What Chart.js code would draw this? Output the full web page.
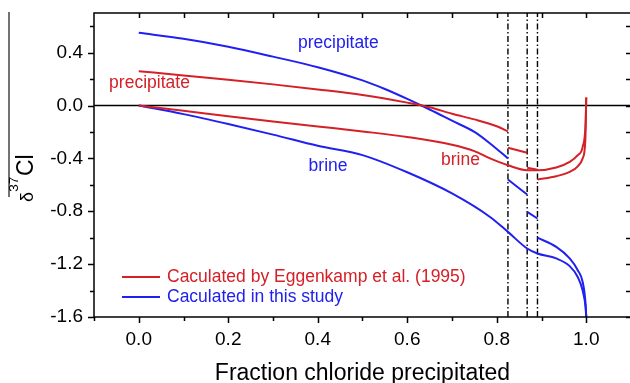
<!DOCTYPE html>
<html>
<head>
<meta charset="utf-8">
<script src="https://cdn.jsdelivr.net/npm/chart.js@4.4.1/dist/chart.umd.min.js"></script>
<style>
  html, body { margin: 0; padding: 0; overflow: hidden; background: #fff; }
  canvas { display: block; }
</style>
</head>
<body>
<canvas id="chart" width="634" height="383"></canvas>
<script>
// tick labels
const xTickValues = [0, 0.2, 0.4, 0.6, 0.8, 1.0];
const yTickValues = [-1.6, -1.2, -0.8, -0.4, 0, 0.4];

// fractions where the salt assemblage changes (dash-dot lines)
const stageBreaks = [0.825, 0.868, 0.891];

// this study (blue) - precipitate, null = break in the curve
const bluePrecX = [0, 0.1, 0.2, 0.3, 0.4, 0.5, 0.55, 0.6, 0.65, 0.7, 0.75, 0.785, 0.825,
  0.825, 0.825, 0.868, 0.868, 0.868, 0.891, 0.891,
  0.891, 0.933, 0.963, 0.981, 0.992, 0.9985, 1.0];
const bluePrecY = [0.55, 0.505, 0.445, 0.37, 0.29, 0.19, 0.125, 0.05, -0.03, -0.115, -0.2, -0.287, -0.40,
  null, -0.56, -0.673, null, -0.805, -0.855, null,
  -1.0, -1.07, -1.157, -1.246, -1.335, -1.5, -1.6];

// this study (blue) - brine
const blueBrineX = [0, 0.1, 0.2, 0.3, 0.4, 0.5, 0.6, 0.7, 0.785, 0.825, 0.868, 0.891, 0.933, 0.963, 0.981, 0.992, 0.9985, 1.0];
const blueBrineY = [0, -0.065, -0.14, -0.22, -0.305, -0.375, -0.505, -0.665, -0.843, -0.956, -1.082, -1.12, -1.157, -1.215, -1.297, -1.4, -1.525, -1.6];

// Eggenkamp et al. (1995) (red) - precipitate
const redPrecX = [0, 0.1, 0.2, 0.3, 0.4, 0.5, 0.6, 0.65, 0.7, 0.75, 0.8, 0.825,
  0.825, 0.825, 0.868, 0.868, 0.868, 0.891, 0.891,
  0.891, 0.933, 0.963, 0.981, 0.992, 0.998, 1.0];
const redPrecY = [0.26, 0.227, 0.195, 0.16, 0.122, 0.08, 0.022, -0.013, -0.062, -0.105, -0.157, -0.195,
  null, -0.32, -0.358, null, -0.47, -0.485, null,
  -0.56, -0.535, -0.502, -0.46, -0.40, -0.26, 0.06];

// Eggenkamp et al. (1995) (red) - brine
const redBrineX = [0, 0.1, 0.2, 0.3, 0.4, 0.5, 0.6, 0.7, 0.75, 0.785, 0.825, 0.868, 0.891, 0.933, 0.963, 0.981, 0.992, 0.9985, 1.0];
const redBrineY = [0, -0.04, -0.082, -0.12, -0.158, -0.196, -0.238, -0.297, -0.345, -0.40, -0.452, -0.49, -0.49, -0.469, -0.427, -0.376, -0.313, -0.135, 0.06];

const legendLabels = ["Caculated by Eggenkamp et al. (1995)", "Caculated in this study"];
const curveNotes = [
  { text: "precipitate", x: 0.446, y: 0.474, series: 1 },
  { text: "precipitate", x: 0.024, y: 0.166, series: 0 },
  { text: "brine", x: 0.423, y: -0.457, series: 1 },
  { text: "brine", x: 0.719, y: -0.414, series: 0 }
];

const RED = "#d42026";
const BLUE = "#2020f0";
const FONT = '"Liberation Sans", Arial, sans-serif';
const colors = [RED, BLUE];

Chart.defaults.font.family = FONT;
Chart.defaults.color = "#000";

function pts(xs, ys) {
  return xs.map((x, i) => ({ x: x, y: ys[i] }));
}

function curve(xs, ys, color) {
  return {
    data: pts(xs, ys),
    borderColor: color,
    borderWidth: 2,
    pointRadius: 0,
    showLine: true,
    spanGaps: false,
    cubicInterpolationMode: "monotone"
  };
}

const datasets = [
  curve(redPrecX, redPrecY, RED),
  curve(redBrineX, redBrineY, RED),
  curve(bluePrecX, bluePrecY, BLUE),
  curve(blueBrineX, blueBrineY, BLUE),
  {
    data: pts([-0.1, 1.1], [0, 0]),
    borderColor: "#000",
    borderWidth: 1.3,
    pointRadius: 0,
    showLine: true
  }
];
stageBreaks.forEach((b) => {
  datasets.push({
    data: pts([b, b], [-1.6, 0.7]),
    borderColor: "#000",
    borderWidth: 1.4,
    borderDash: [6, 2.5, 1.5, 2.5],
    pointRadius: 0,
    showLine: true
  });
});

// frame, inward/outward tick marks, y title, curve notes and legend
const decorations = {
  id: "decorations",
  afterDraw(chart) {
    const { ctx, chartArea: a, scales: { x, y } } = chart;
    ctx.save();
    ctx.strokeStyle = "#000";
    ctx.lineWidth = 1.5;
    ctx.strokeRect(a.left, a.top, a.right - a.left, a.bottom - a.top);

    ctx.beginPath();
    for (let i = -1; i <= 11; i++) {
      const v = i / 10;
      const px = Math.round(x.getPixelForValue(v)) + 0.5;
      const len = i % 2 === 0 ? 6 : 4;
      ctx.moveTo(px, a.bottom);
      ctx.lineTo(px, a.bottom + len);
      if (i >= 0 && i <= 10) {
        ctx.moveTo(px, a.top);
        ctx.lineTo(px, a.top + 5);
      }
    }
    for (let i = -8; i <= 3; i++) {
      const v = i / 5;
      const py = Math.round(y.getPixelForValue(v)) + 0.5;
      const len = i % 2 === 0 ? 6 : 4;
      ctx.moveTo(a.left, py);
      ctx.lineTo(a.left - len, py);
      ctx.moveTo(a.right, py);
      ctx.lineTo(a.right - 5, py);
    }
    ctx.stroke();

    // y axis title with the odd bar on its left
    ctx.strokeStyle = "#444";
    ctx.lineWidth = 1.5;
    ctx.beginPath();
    ctx.moveTo(9, 12);
    ctx.lineTo(9, 197);
    ctx.stroke();

    ctx.save();
    ctx.translate(33, 202);
    ctx.rotate(-Math.PI / 2);
    ctx.fillStyle = "#000";
    ctx.textBaseline = "alphabetic";
    ctx.textAlign = "left";
    ctx.font = "18px " + FONT;
    ctx.fillText("δ", 0, 0);
    ctx.font = "13.5px " + FONT;
    ctx.fillText("37", 10.3, -15);
    ctx.font = "23px " + FONT;
    ctx.fillText("Cl", 26, 0);
    ctx.restore();

    // notes next to the curves
    ctx.font = "17.5px " + FONT;
    ctx.textAlign = "center";
    ctx.textBaseline = "middle";
    curveNotes.forEach((n) => {
      ctx.fillStyle = colors[n.series];
      ctx.fillText(n.text, x.getPixelForValue(n.x), y.getPixelForValue(n.y));
    });

    // legend
    ctx.textAlign = "left";
    legendLabels.forEach((label, i) => {
      const ly = 277 + i * 20;
      ctx.strokeStyle = colors[i];
      ctx.lineWidth = 2;
      ctx.beginPath();
      ctx.moveTo(122, ly);
      ctx.lineTo(160, ly);
      ctx.stroke();
      ctx.fillStyle = colors[i];
      ctx.fillText(label, 167, ly);
    });
    ctx.restore();
  }
};

new Chart(document.getElementById("chart"), {
  type: "scatter",
  data: { datasets: datasets },
  options: {
    responsive: false,
    animation: false,
    layout: { padding: { top: 13, right: 3, left: 0, bottom: 0 } },
    plugins: {
      legend: { display: false },
      tooltip: { enabled: false }
    },
    scales: {
      x: {
        type: "linear",
        min: -0.1,
        max: 1.1,
        afterBuildTicks: (s) => { s.ticks = xTickValues.map((v) => ({ value: v })); },
        afterFit: (s) => { s.height = 66; s.paddingLeft = 0; s.paddingRight = 0; },
        grid: { display: false, drawTicks: false },
        border: { display: false },
        ticks: {
          font: { size: 19 },
          padding: 11,
          maxRotation: 0,
          autoSkip: false,
          callback: (v) => Number(v).toFixed(1)
        },
        title: {
          display: true,
          text: "Fraction chloride precipitated",
          font: { size: 23, lineHeight: 0.8 },
          padding: 0
        }
      },
      y: {
        type: "linear",
        min: -1.6,
        max: 0.7,
        afterBuildTicks: (s) => { s.ticks = yTickValues.map((v) => ({ value: v })); },
        afterFit: (s) => { s.width = 94; s.paddingTop = 0; s.paddingBottom = 0; },
        grid: { display: false, drawTicks: false },
        border: { display: false },
        ticks: {
          font: { size: 19 },
          padding: 11,
          autoSkip: false,
          callback: (v) => Number(v).toFixed(1)
        }
      }
    }
  },
  plugins: [decorations]
});
</script>
</body>
</html>
